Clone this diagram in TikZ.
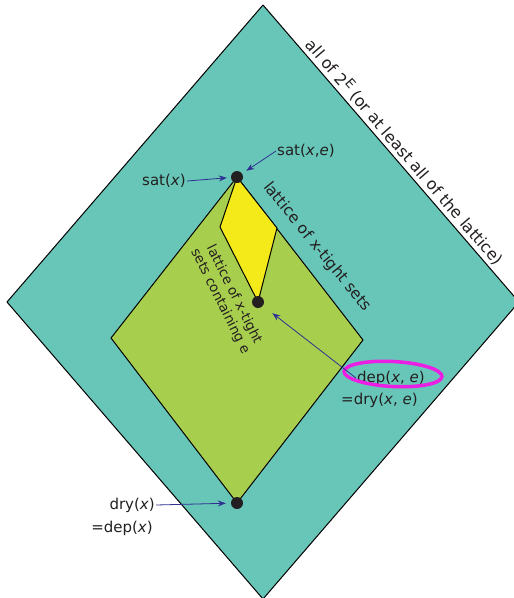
\documentclass[tikz,border=0pt]{standalone}
\usepackage{fontspec}
\setmainfont{DejaVu Sans}
\usetikzlibrary{arrows.meta}
\definecolor{teal1}{RGB}{104,198,184}
\definecolor{lime1}{RGB}{168,206,78}
\definecolor{yel1}{RGB}{244,234,26}
\definecolor{arr1}{RGB}{46,49,146}
\definecolor{txt1}{RGB}{35,31,32}
\definecolor{mag1}{RGB}{236,30,228}
\tikzset{
  region/.style={draw=black, line width=1pt, line join=round},
  dot/.style={circle, fill=txt1, inner sep=0pt, minimum size=12pt},
  lbl/.style={text=txt1, font=\fontsize{15}{17}\selectfont, inner sep=1pt},
  pointer/.style={draw=arr1, line width=0.8pt, -{Stealth[length=8pt,width=6pt]}},
}
\begin{document}
\begin{tikzpicture}[x=1pt,y=-1pt]
\useasboundingbox (0,0) rectangle (514,598);
\begin{scope}
\clip (0,0) rectangle (514,598);
\fill[white] (0,0) rectangle (514,598);
\draw[region, fill=teal1] (263,5) -- (519,302) -- (263,599) -- (7,302) -- cycle;
\end{scope}
\draw[region, fill=lime1] (237,177) -- (363,340) -- (237,503) -- (111,338) -- cycle;
\draw[region, fill=yel1] (237,177) -- (277,228) -- (258,302) -- (220,227) -- cycle;
\node[dot] (sat) at (237,177) {};
\node[dot] (dep) at (258,302) {};
\node[dot] (dry) at (237,503) {};
% rotated labels
\node[text=txt1, font=\fontsize{16}{18}\selectfont, rotate=-49.2] (all) at (405,152) {all of 2\raisebox{0.6ex}{\fontsize{13}{13}\selectfont E} (or at least all of the lattice)};
\node[text=txt1, font=\fontsize{15.5}{18}\selectfont, rotate=-51] (lat) at (317,247) {lattice of x-tight sets};
\node[text=txt1, font=\fontsize{13.5}{15.5}\selectfont, rotate=-63.5, align=center] (latc) at (227,298) {lattice of x-tight\\sets containing e};
% point labels
\node[lbl, anchor=east] (satx) at (187,181) {sat(\textit{x})};
\node[lbl, anchor=west] (satxe) at (276,151) {sat(\textit{x},\textit{e})};
\node[lbl, anchor=west] (depxe) at (356,378) {dep(\textit{x}, \textit{e})};
\node[lbl, anchor=west] (dryxe) at (340,400) {=dry(\textit{x}, \textit{e})};
\node[lbl, anchor=east] (dryx) at (156,505) {dry(\textit{x})};
\node[lbl, anchor=east] (depx) at (154,528) {=dep(\textit{x})};
\draw[mag1, line width=3.5pt, rotate around={-3:(393,374)}] (393,374) ellipse [x radius=49pt, y radius=12.5pt];
\draw[pointer, shorten >=4pt] (satx.east) -- (sat);
\draw[pointer, shorten >=5pt] (satxe.west) -- (sat);
\draw[pointer, shorten >=12pt] (depxe.west) -- (dep);
\draw[pointer, shorten >=5pt] (dryx.east) -- (dry);
\end{tikzpicture}
\end{document}
